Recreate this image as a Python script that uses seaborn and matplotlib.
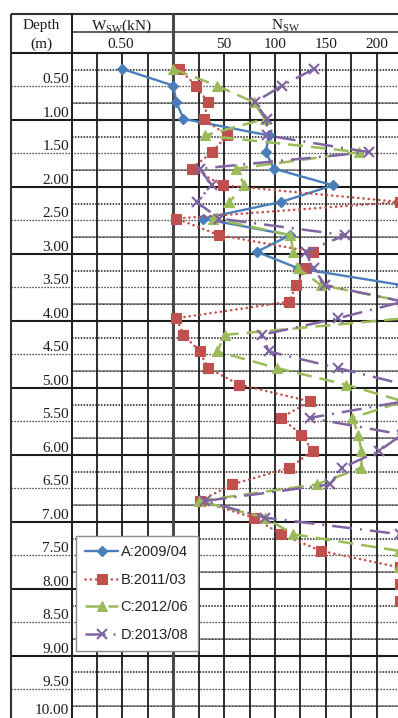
import matplotlib
matplotlib.use("Agg")
import matplotlib.pyplot as plt
import pandas as pd
import seaborn as sns

# ---- Swedish weight sounding record ----
depth = [0.25, 0.50, 0.75, 1.00, 1.25, 1.50, 1.75, 2.00, 2.25, 2.50, 2.75,
         3.00, 3.25, 3.50, 3.75, 4.00, 4.25, 4.50, 4.75, 5.00, 5.25, 5.50,
         5.75, 6.00, 6.25, 6.50, 6.75, 7.00, 7.25, 7.50, 7.75, 8.00, 8.25]

# A: static load stages (kN) first, then half-turn counts N_sw
wsw_A = [0.50, 1.00]
nsw_A = [3, 10, 94, 91, 99, 157, 106, 29, 115, 82, 123, 224]
nsw_B = [6, 22, 34, 30, 53, 38, 18, 49, 223, 3, 45, 137, 130, 121, 114, 3,
         10, 26, 34, 65, 134, 106, 126, 137, 114, 58, 26, 79, 106, 145, 223,
         223, 223]
nsw_C = [0, 43, 79, 90, 31, 183, 62, 70, 55, 39, 115, 118, 123, 145, 228,
         228, 51, 43, 102, 170, 226, 176, 182, 185, 185, 141, 25, 90, 118,
         222, 222]
nsw_D = [138, 107, 80, 92, 92, 192, 26, 38, 23, 45, 169, 130, 138, 149, 226,
         162, 87, 94, 162, 228, 227, 134, 225, 202, 166, 154, 31, 90, 223]

series_labels = ["A:2009/04", "B:2011/03", "C:2012/06", "D:2013/08"]
series_colors = ["#4A7EBB", "#C0504D", "#9BBB59", "#8064A2"]
n_ticks = [50, 100, 150, 200]
w_ticks = [0.50]
depth_marks = [0.5, 1.0, 1.5, 2.0, 2.5, 3.0, 3.5, 4.0, 4.5, 5.0,
               5.5, 6.0, 6.5, 7.0, 7.5, 8.0, 8.5, 9.0, 9.5, 10.0]

# composite horizontal axis: load column occupies [-100, 0] (0..1 kN), N_sw >= 0
W_SCALE = 100.0


def long_rows(label, wsw, nsw):
    rows = []
    for d, w in zip(depth, wsw):
        rows.append((label, d, (w - 1.0) * W_SCALE))
    for d, n in zip(depth[len(wsw):], nsw):
        rows.append((label, d, n))
    return rows


records = (long_rows(series_labels[0], wsw_A, nsw_A)
           + long_rows(series_labels[1], [], nsw_B)
           + long_rows(series_labels[2], [], nsw_C)
           + long_rows(series_labels[3], [], nsw_D))
df = pd.DataFrame(records, columns=["series", "depth", "pos"])

sns.set_style("white")
plt.rcParams["font.family"] = ["Liberation Serif", "DejaVu Serif"]
plt.rcParams["mathtext.fontset"] = "custom"
plt.rcParams["mathtext.rm"] = "Liberation Serif"
plt.rcParams["mathtext.it"] = "Liberation Serif:italic"
plt.rcParams["mathtext.bf"] = "Liberation Serif:bold"

# ---- page geometry (pixels) ----
FW, FH = 398, 718
LEFT, TOP = 11, 14
HEAD_MID, HEAD_BOT = 32, 53
DCOL = 72            # depth column | load column
ZERO_X = 173.3       # load column | N_sw column
PX_PER_UNIT = 1.017  # horizontal pixels per axis unit
ROW_M = 66.97        # table pixels per metre
DATA_Y0, DATA_PX_M = 52.4, 66.46   # vertical mapping of the chart area

fig = plt.figure(figsize=(FW / 100, FH / 100), dpi=100)
fig.patch.set_facecolor("white")

# table frame drawn in pixel units
tab = fig.add_axes([0, 0, 1, 1])
tab.set_xlim(0, FW)
tab.set_ylim(FH, 0)
tab.axis("off")

ink = "#1c1c1c"


def unit_px(v):
    return ZERO_X + PX_PER_UNIT * v


# horizontal rules every 0.25 m
k = 1
while HEAD_BOT + k * ROW_M / 4 <= FH + 1:
    y = HEAD_BOT + k * ROW_M / 4
    if k % 4 == 0:
        tab.hlines(y, LEFT, FW, color=ink, lw=1.5)
    elif k % 4 == 2:
        tab.hlines(y, LEFT, FW, color=ink, lw=0.9, linestyles=(0, (1, 1.4)))
    elif k % 4 == 1:
        tab.hlines(y, DCOL, FW, color=ink, lw=1.1, linestyles=(0, (1, 0.9)))
    else:
        tab.hlines(y, DCOL, FW, color="#8e8e8e", lw=1.4)
        tab.hlines(y, DCOL, FW, color=ink, lw=0.7, linestyles=(0, (1, 2.5)))
    k += 1

# vertical cell rules
for w in [0.25, 0.50, 0.75]:
    tab.vlines(unit_px((w - 1.0) * W_SCALE), HEAD_BOT, FH, color=ink, lw=1.3)
for n in range(25, 226, 25):
    tab.vlines(unit_px(n), HEAD_BOT, FH, color=ink, lw=1.3)

# outer frame and header rules
tab.hlines(TOP, LEFT, FW, color="#333333", lw=1.5)
tab.vlines(LEFT, TOP, FH, color="#333333", lw=1.5)
tab.hlines(HEAD_MID, DCOL, FW, color="#333333", lw=1.1)
tab.hlines(HEAD_BOT, LEFT, FW, color=ink, lw=1.5)
tab.vlines(DCOL, TOP, FH, color=ink, lw=1.4)
tab.vlines(ZERO_X, TOP, FH, color="#4a4a4a", lw=2.2)

# header texts
fs = 11
tab.text(41.5, 29.5, "Depth", ha="center", va="baseline", fontsize=fs, color=ink)
tab.text(41.5, 48.0, "(m)", ha="center", va="baseline", fontsize=fs, color=ink)
tab.text(122, 29.5, r"W$_{\mathrm{SW}}$(kN)", ha="center", va="baseline",
         fontsize=fs, color=ink)
tab.text(286, 29.5, r"N$_{\mathrm{SW}}$", ha="center", va="baseline",
         fontsize=fs, color=ink)
for w in w_ticks:
    tab.text(unit_px((w - 1.0) * W_SCALE) - 2, 47.5, f"{w:.2f}", ha="center",
             va="baseline", fontsize=fs, color=ink)
for n in n_ticks:
    tab.text(unit_px(n), 47.5, f"{n}", ha="center", va="baseline",
             fontsize=fs, color=ink)
for d in depth_marks:
    base = min(HEAD_BOT + ROW_M * d - 3, FH - 3.5)
    tab.text(69, base, f"{d:.2f}", ha="right", va="baseline",
             fontsize=fs, color=ink)

# ---- chart area ----
ax = fig.add_axes([DCOL / FW, 0, (FW - DCOL) / FW, (FH - HEAD_BOT) / FH])
ax.patch.set_alpha(0)
ax.set_xlim((DCOL - ZERO_X) / PX_PER_UNIT, (FW - ZERO_X) / PX_PER_UNIT)
ax.set_ylim((FH - DATA_Y0) / DATA_PX_M, (HEAD_BOT - DATA_Y0) / DATA_PX_M)
ax.axis("off")

styles = {
    "A:2009/04": dict(marker="D", markersize=5, linestyle="-", linewidth=1.7,
                      markeredgewidth=1.0),
    "B:2011/03": dict(marker="s", markersize=6.5, linestyle=(0, (0.1, 2.0)),
                      linewidth=1.8, dash_capstyle="round",
                      markeredgewidth=0.8),
    "C:2012/06": dict(marker="^", markersize=7.5, linestyle=(0, (6, 3.2)),
                      linewidth=1.8, dash_capstyle="butt",
                      markeredgewidth=0.8),
    "D:2013/08": dict(marker="x", markersize=7, linestyle=(0, (8, 3.2, 0.8, 3.2)),
                      linewidth=1.8, dash_capstyle="butt",
                      markeredgewidth=1.5),
}

handles = []
for lab, col in zip(series_labels, series_colors):
    sub = df[df["series"] == lab]
    before = len(ax.lines)
    sns.lineplot(data=sub, x="pos", y="depth", orient="y", sort=False,
                 estimator=None, errorbar=None, ax=ax, color=col,
                 markerfacecolor=col, markeredgecolor=col, label=lab,
                 legend=False, **styles[lab])
    handles.append(ax.lines[before])

leg = ax.legend(handles, series_labels, loc="upper left",
                bbox_to_anchor=(76 / FW, 1 - 536 / FH),
                bbox_transform=fig.transFigure, frameon=True, fancybox=False,
                edgecolor="#8c8c8c", framealpha=1, facecolor="white",
                prop={"family": "Liberation Sans", "size": 10.5},
                handlelength=2.2, handletextpad=0.2, labelspacing=0.92,
                borderpad=0.65, borderaxespad=0, numpoints=1)
leg.get_frame().set_linewidth(1.0)
for t in leg.get_texts():
    t.set_color("#222222")

fig.savefig("out.png", dpi=100, facecolor="white")
